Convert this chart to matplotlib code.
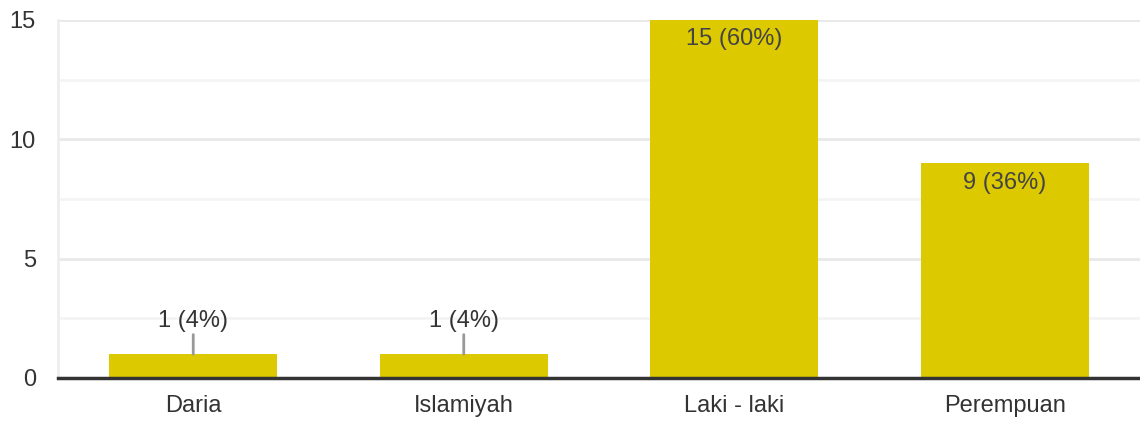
import matplotlib.pyplot as plt
from matplotlib.ticker import MultipleLocator

categories = ["Daria", "Islamiyah", "Laki - laki", "Perempuan"]
counts = [1, 1, 15, 9]
percents = [4, 4, 60, 36]

BAR_COLOR = "#dcc900"
TEXT_COLOR = "#333333"
LABEL_COLOR = "#444444"

plt.rcParams["font.family"] = ["Liberation Sans", "DejaVu Sans"]

fig = plt.figure(figsize=(11.4, 4.21), dpi=100)
ax = fig.add_axes([58 / 1140, 1 - 378 / 421, 1082 / 1140, 358 / 421])

x = range(len(categories))
bars = ax.bar(x, counts, width=0.62, color=BAR_COLOR, zorder=2)

ax.set_xlim(-0.5, len(categories) - 0.5)
ax.set_ylim(0, 15)
ax.yaxis.set_major_locator(MultipleLocator(5))
ax.yaxis.set_minor_locator(MultipleLocator(2.5))
ax.grid(axis="y", which="major", color="#e8e8e8", linewidth=2, zorder=0)
ax.grid(axis="y", which="minor", color="#f4f4f4", linewidth=2, zorder=0)

for side in ["top", "right", "bottom"]:
    ax.spines[side].set_visible(False)
ax.spines["left"].set_color("#eeeeee")
ax.spines["left"].set_linewidth(2)
ax.axhline(0, color="#333333", linewidth=2.5, zorder=3, clip_on=False)

ax.set_xticks(list(x))
ax.set_xticklabels(categories)
ax.tick_params(axis="x", length=0, pad=12, labelsize=17, labelcolor=TEXT_COLOR)
ax.tick_params(axis="y", which="both", length=0, pad=16, labelsize=17,
               labelcolor=TEXT_COLOR)

for bar, n, p in zip(bars, counts, percents):
    cx = bar.get_x() + bar.get_width() / 2
    label = f"{n} ({p}%)"
    if n > 3:
        ax.annotate(label, xy=(cx, n), xytext=(0, -14), textcoords="offset points",
                    ha="center", va="center", fontsize=17, color=LABEL_COLOR,
                    zorder=4)
    else:
        ax.annotate(label, xy=(cx, n), xytext=(0, 24), textcoords="offset points",
                    ha="center", va="center", fontsize=17, color=TEXT_COLOR,
                    arrowprops=dict(arrowstyle="-", color="#999999", lw=2,
                                    shrinkA=0, shrinkB=0),
                    zorder=4)

fig.savefig("out.png", dpi=100)
plt.close(fig)
